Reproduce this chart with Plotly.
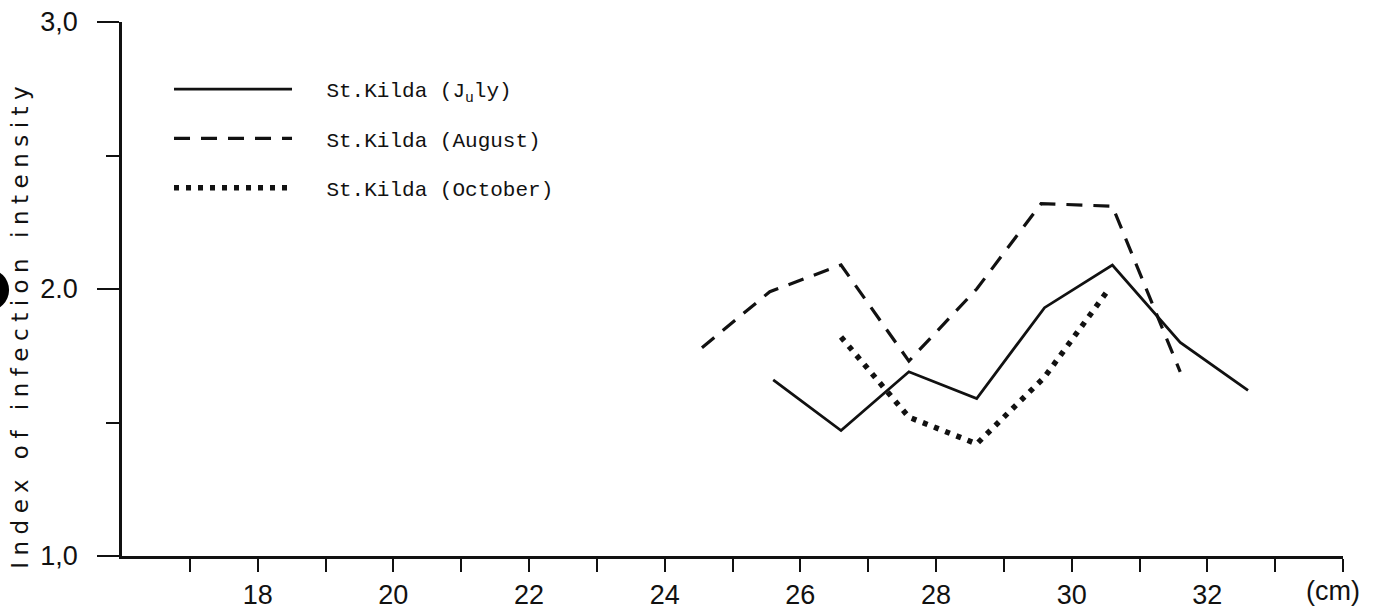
import plotly.graph_objects as go

# ---- data ----
july_x = [25.6, 26.6, 27.6, 28.6, 29.6, 30.6, 31.6, 32.6]
july_y = [1.66, 1.47, 1.69, 1.59, 1.93, 2.09, 1.80, 1.62]

aug_x = [24.55, 25.55, 26.6, 27.6, 28.6, 29.55, 30.6, 31.6]
aug_y = [1.78, 1.99, 2.09, 1.73, 2.00, 2.32, 2.31, 1.69]

oct_x = [26.6, 27.6, 28.6, 29.6, 30.55]
oct_y = [1.82, 1.52, 1.42, 1.67, 2.00]

x_tickvals = [17, 18, 19, 20, 21, 22, 23, 24, 25, 26, 27, 28, 29, 30, 31, 32, 33, 34]
x_ticktext = ["", "18", "", "20", "", "22", "", "24", "", "26", "", "28", "", "30", "", "32", "", ""]
y_tickvals = [1, 2, 3]
y_ticktext = ["1,0", "2.0", "3,0"]
y_minorvals = [1.5, 2.5]

PAD = "\u00a0\u00a0\u2009"
names = [PAD + "St.Kilda (J<sub>u</sub>ly)", PAD + "St.Kilda (August)", PAD + "St.Kilda (October)"]

INK = "#111111"
TICKFONT = dict(family="Liberation Sans, Arial, sans-serif", size=27, color=INK)

fig = go.Figure()
fig.add_trace(go.Scatter(x=july_x, y=july_y, mode="lines", name=names[0], legendgroup="a",
                         line=dict(color=INK, width=2.8)))
fig.add_trace(go.Scatter(x=aug_x, y=aug_y, mode="lines", name=names[1], legendgroup="b",
                         line=dict(color=INK, width=3.2, dash="16px,11px")))
fig.add_trace(go.Scatter(x=oct_x, y=oct_y, mode="lines", name=names[2], legendgroup="c",
                         line=dict(color=INK, width=5.5, dash="5px,7px")))

fig.update_layout(
    width=1381, height=610,
    margin=dict(l=122, r=38, t=22, b=54, autoexpand=False),
    paper_bgcolor="white", plot_bgcolor="white",
    showlegend=True,
    legend=dict(x=0.0385, y=0.912, xanchor="left", yanchor="top",
                font=dict(family="Liberation Mono, DejaVu Sans Mono, monospace", size=21, color=INK),
                itemwidth=118, tracegroupgap=19, bgcolor="rgba(0,0,0,0)", borderwidth=0),
    xaxis=dict(range=[16, 34], showgrid=False, zeroline=False, automargin=False,
               showline=True, linecolor=INK, linewidth=2.5,
               tickmode="array", tickvals=x_tickvals, ticktext=x_ticktext,
               ticks="outside", ticklen=13, tickwidth=2, tickcolor=INK,
               ticklabelstandoff=0, ticklabeloverflow="allow", tickfont=TICKFONT),
    yaxis=dict(range=[1, 3], showgrid=False, zeroline=False, automargin=False,
               showline=True, linecolor=INK, linewidth=2.5,
               tickmode="array", tickvals=y_tickvals, ticktext=y_ticktext,
               ticks="outside", ticklen=22, tickwidth=2, tickcolor=INK,
               ticklabelstandoff=14, ticklabeloverflow="allow", tickfont=TICKFONT,
               minor=dict(tickmode="array", tickvals=y_minorvals, ticks="outside",
                          ticklen=13, tickwidth=2, tickcolor=INK, showgrid=False)),
    annotations=[
        dict(text='<span style="letter-spacing:6.5px">Index of infection intensity</span>',
             xref="paper", yref="paper", x=-0.0835, y=0.433, textangle=-90,
             xanchor="center", yanchor="middle", showarrow=False,
             font=dict(family="DejaVu Sans, sans-serif", size=23, color=INK)),
        dict(text="(cm)", xref="paper", yref="paper", x=0.992, y=-0.0655,
             xanchor="center", yanchor="middle", showarrow=False, font=TICKFONT),
    ],
    shapes=[
        dict(type="circle", xref="paper", yref="paper", x0=-0.127, x1=-0.0925,
             y0=0.459, y1=0.5375, fillcolor="black", line=dict(width=0), layer="above"),
    ],
)

# remove the default 8px page margin so the figure fills the window exactly
fig.write_html("out.html", config={"displayModeBar": False},
               post_script="document.body.style.margin='0px';")
